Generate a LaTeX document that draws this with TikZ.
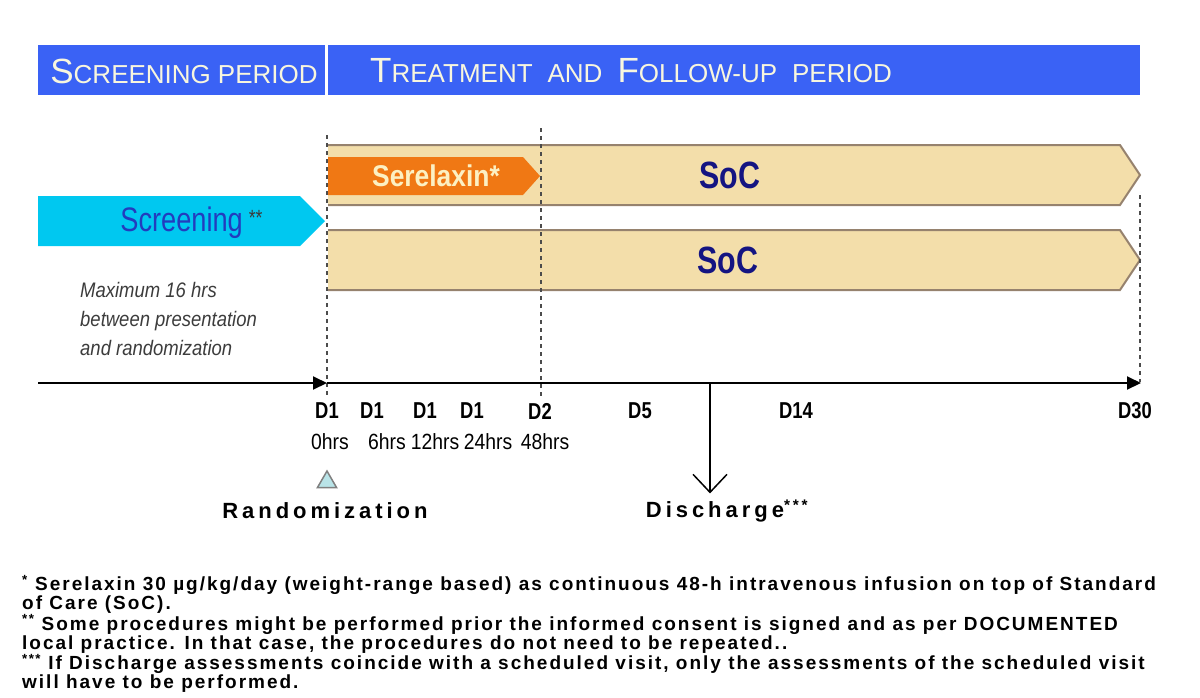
\documentclass[tikz,border=0pt]{standalone}
\usepackage{fontspec}
\setmainfont{Liberation Sans}
\newfontfamily\slimfont[FakeStretch=0.8]{Liberation Sans}
\newfontfamily\midfont[FakeStretch=0.88]{Liberation Sans}
\newfontfamily\spacedfont[LetterSpace=18]{Liberation Sans}
\newfontfamily\notefont[LetterSpace=10.5]{Liberation Sans}
\usetikzlibrary{positioning,arrows.meta,shapes.geometric,calc}

\definecolor{headblue}{RGB}{58,98,245}
\definecolor{headcream}{RGB}{248,246,222}
\definecolor{soctan}{RGB}{243,222,170}
\definecolor{socedge}{RGB}{150,130,110}
\definecolor{socnavy}{RGB}{20,20,130}
\definecolor{serorange}{RGB}{240,120,20}
\definecolor{sercream}{RGB}{252,240,195}
\definecolor{scrcyan}{RGB}{0,200,240}
\definecolor{scrblue}{RGB}{35,60,190}
\definecolor{randcyan}{RGB}{185,228,232}
\definecolor{notegray}{RGB}{60,60,60}

\tikzstyle{headbox}=[rectangle, fill=headblue, minimum height=50, inner sep=0]
\tikzstyle{headtext}=[text=headcream, inner sep=0, anchor=west]
\tikzstyle{socbar}=[fill=soctan, draw=socedge, line width=2]
\tikzstyle{serbar}=[fill=serorange]
\tikzstyle{scrbar}=[fill=scrcyan]
\tikzstyle{soctext}=[text=socnavy, inner sep=0, font=\slimfont\bfseries\fontsize{38}{38}\selectfont]
\tikzstyle{sertext}=[text=sercream, inner sep=0, font=\midfont\bfseries\fontsize{30}{30}\selectfont]
\tikzstyle{scrtext}=[text=scrblue, inner sep=0, font=\slimfont\fontsize{34}{34}\selectfont]
\tikzstyle{notehrs}=[text=notegray, inner sep=0, anchor=west, align=left,
    font=\midfont\itshape\fontsize{21}{29}\selectfont]
\tikzstyle{daylabel}=[inner sep=0, font=\slimfont\bfseries\fontsize{23}{23}\selectfont]
\tikzstyle{hrslabel}=[inner sep=0, font=\midfont\fontsize{22}{22}\selectfont]
\tikzstyle{eventtext}=[inner sep=0, font=\spacedfont\bfseries\fontsize{22}{22}\selectfont]
\tikzstyle{notetext}=[inner sep=0, anchor=north west, align=left,
    font=\notefont\bfseries\fontsize{19}{19.2}\selectfont]
\tikzstyle{vdash}=[gray!60!black, line width=1.5, dash pattern=on 4pt off 4pt]
\tikzstyle{axis}=[black, line width=2]

% small caps made of two sizes
\newcommand\capsword[2]{{\fontsize{35}{35}\selectfont #1}{\fontsize{26}{26}\selectfont #2}}
% arrow bar: name, style, left, right, top, bottom, tip length
\newcommand\phasebar[7]{
    \path[#2] (#3,#5) -- ({#4-#7},#5) -- (#4,{(#5+#6)/2}) -- ({#4-#7},#6) -- (#3,#6);
    \coordinate (#1) at ({(#3+#4)/2},{(#5+#6)/2});
}

\begin{document}
\begin{tikzpicture}[x=1pt, y=-1pt]

    \useasboundingbox (0,0) rectangle (1200,697);

    \node (scrhead) [headbox, minimum width=287] at (181.5,70) {};
    \node (trthead) [headbox, minimum width=812] at (734,70) {};
    \node (scrtitle) [headtext, anchor=center] at (184,71) {\capsword{S}{CREENING}\hspace{7pt}\capsword{}{PERIOD}};
    \node (trttitle) [headtext] at (370,71) {\capsword{T}{REATMENT}\hspace{15pt}\capsword{}{AND}\hspace{15pt}\capsword{F}{OLLOW-UP}\hspace{15pt}\capsword{}{PERIOD}};

%bars
    \phasebar{soctop}{socbar}{328}{1140}{145}{205}{20}
    \phasebar{socbot}{socbar}{328}{1140}{230}{290}{20}
    \phasebar{serx}{serbar}{328}{540}{157}{195}{17}
    \phasebar{scr}{scrbar}{38}{325}{196}{246}{25}

    \node (soctoptext) [soctext, xshift=-4] at (soctop) {SoC};
    \node (socbottext) [soctext, xshift=-6] at (socbot) {SoC};
    \node (serxtext) [sertext, xshift=2] at (serx) {Serelaxin*};
    \node (scrlabel) [scrtext, xshift=10, yshift=-2] at (scr) {Screening\hspace{6pt}\raisebox{6pt}{\color{notegray}\fontsize{22}{22}\selectfont **}};

    \node (maxnote) [notehrs] at (80,319) {Maximum 16 hrs\\between presentation\\and randomization};

    \draw[vdash] (327,135) -- (327,398);
    \draw[vdash] (541,128) -- (541,398);
    \draw[vdash] (1140,195) -- (1140,382);

%time axis
    \coordinate (axleft) at (38,383);
    \coordinate (t0) at (327,383);
    \coordinate (t30) at (1141,383);
    \coordinate (tdis) at (710,383);
    \draw[axis, -{Triangle[length=14,width=13]}] (axleft) -- (t0);
    \draw[axis, -{Triangle[length=14,width=13]}] (t0) -- (t30);

    \node (d1a) [daylabel] at (327,411) {D1};
    \node (d1b) [daylabel] at (372,411) {D1};
    \node (d1c) [daylabel] at (425,411) {D1};
    \node (d1d) [daylabel] at (472,411) {D1};
    \node (d2) [daylabel] at (540,411) {D2};
    \node (d5) [daylabel] at (640,411) {D5};
    \node (d14) [daylabel] at (796,411) {D14};
    \node (d30) [daylabel] at (1135,411) {D30};

    \node (h0) [hrslabel] at (330,442) {0hrs};
    \node (h6) [hrslabel] at (387,442) {6hrs};
    \node (h12) [hrslabel] at (435,442) {12hrs};
    \node (h24) [hrslabel] at (488,442) {24hrs};
    \node (h48) [hrslabel] at (545,442) {48hrs};

    \node (randmark) [regular polygon, regular polygon sides=3, draw=gray, fill=randcyan,
        line width=1.5, minimum size=22, inner sep=0] at (327,482) {};
    \node (rand) [eventtext] at (325,511) {Randomization};
    \node (disch) [eventtext] at (727,511) {Discharge\textsuperscript{***}};

    \draw[line width=1.5, -{Straight Barb[length=18,width=34]}] (tdis) -- (tdis |- disch.north) [shorten >=6];

    \node (notes) [notetext] at (22,575) {%
        \textsuperscript{*} Serelaxin 30 µg/kg/day (weight-range based) as continuous 48-h intravenous infusion on top of Standard\\
        of Care (SoC).\\
        \textsuperscript{**} Some procedures might be performed prior the informed consent is signed and as per DOCUMENTED\\
        local practice. In that case, the procedures do not need to be repeated..\\
        \textsuperscript{***} If Discharge assessments coincide with a scheduled visit, only the assessments of the scheduled visit\\
        will have to be performed.};

\end{tikzpicture}
\end{document}
